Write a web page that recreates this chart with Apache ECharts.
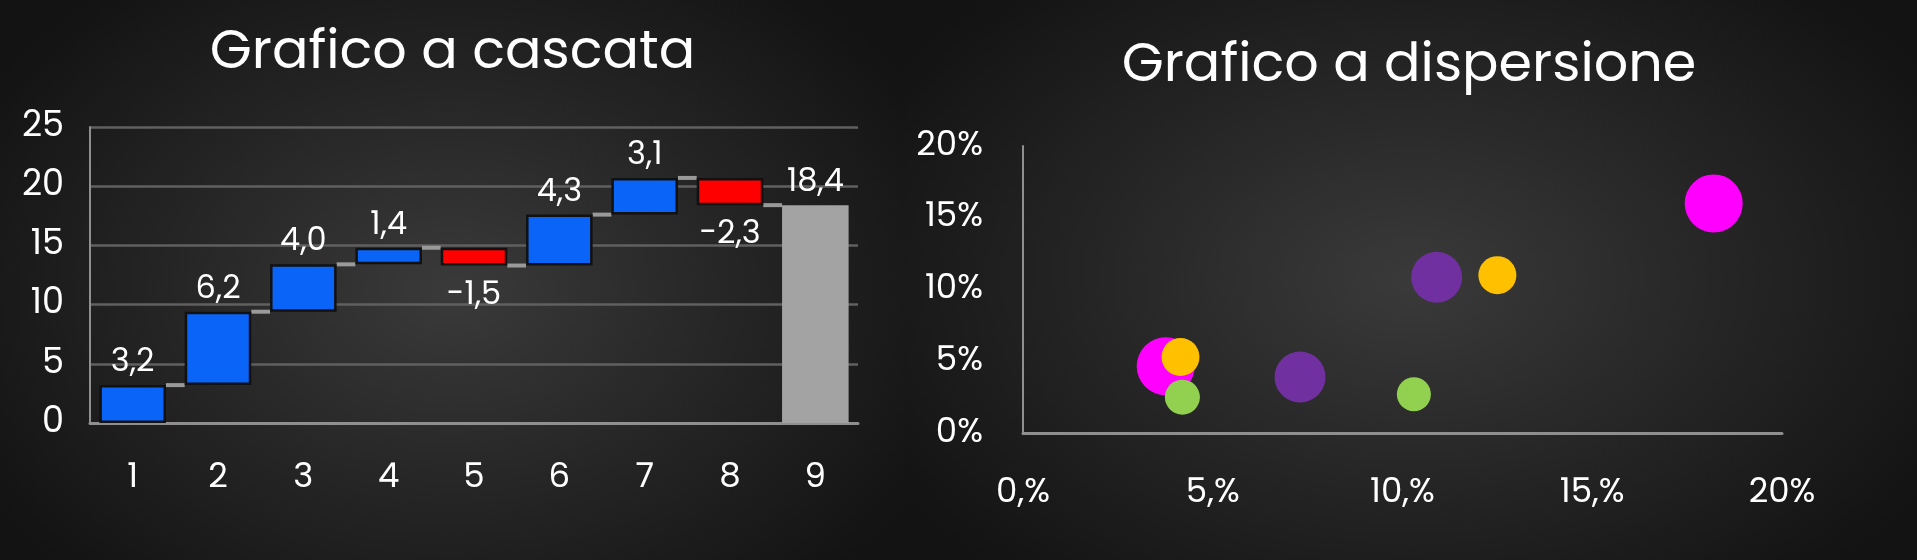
<!DOCTYPE html>
<html>
<head>
<meta charset="utf-8">
<script src="https://cdn.jsdelivr.net/npm/echarts@6/dist/echarts.min.js"></script>
<style>
html,body{margin:0;padding:0;width:1917px;height:560px;overflow:hidden;background:#151515;}
#left{position:absolute;left:0;top:0;width:905px;height:560px;
 background:radial-gradient(ellipse 60% 70% at 50% 52%, #3a3a3a 0%, #262626 50%, #131313 100%);}
#right{position:absolute;left:905px;top:0;width:1012px;height:560px;
 background:radial-gradient(ellipse 60% 70% at 50% 50%, #3a3a3a 0%, #262626 50%, #131313 100%);}
</style>
</head>
<body>
<div id="left"></div>
<div id="right"></div>
<script>
// ---- Waterfall data ----
const wfCategories = ['1','2','3','4','5','6','7','8','9'];
const wfDeltas = [3.2, 6.2, 4.0, 1.4, -1.5, 4.3, 3.1, -2.3];
const wfTotal = 18.4;
const wfYTicks = [0, 5, 10, 15, 20, 25];

// ---- Bubble data: [x, y, size] ----
const bubMagenta = [[0.182, 0.160, 58], [0.0376, 0.0465, 58]];
const bubPurple  = [[0.109, 0.1085, 51], [0.073, 0.039, 51]];
const bubYellow  = [[0.125, 0.110, 38], [0.0415, 0.053, 38]];
const bubGreen   = [[0.042, 0.025, 35], [0.103, 0.027, 34]];
const scXTickLabels = ['0,%', '5,%', '10,%', '15,%', '20%'];
const scYTickLabels = ['0%', '5%', '10%', '15%', '20%'];

const FONT = 'Poppins, Lato, "Noto Sans", sans-serif';
const fmt = v => v.toFixed(1).replace('.', ',');

// cumulative levels
const cum = [];
let run = 0;
wfDeltas.forEach(d => { run += d; cum.push(run); });

const baseData = [], valData = [];
wfDeltas.forEach((d, i) => {
  const prev = i === 0 ? 0 : cum[i - 1];
  baseData.push(Math.min(prev, cum[i]));
  valData.push({
    value: Math.abs(d),
    raw: d,
    itemStyle: { color: d >= 0 ? '#0a64f8' : '#ff0000', borderColor: '#111', borderWidth: 2.5 },
    label: { position: d >= 0 ? 'top' : 'bottom', distance: d >= 0 ? 6 : 14 }
  });
});
baseData.push(0);
valData.push({ value: wfTotal, raw: wfTotal, itemStyle: { color: '#a3a3a3', borderWidth: 0 },
  label: { position: 'top', distance: 6 } });

const connData = cum.map((c, i) => [i, c]);
const BARW = 0.78;

const left = echarts.init(document.getElementById('left'), null, { renderer: 'canvas' });
left.setOption({
  backgroundColor: 'transparent',
  textStyle: { fontFamily: FONT },
  title: { text: 'Grafico a cascata', left: 'center', top: 22,
    textStyle: { color: '#fff', fontSize: 54, fontWeight: 'normal', fontFamily: FONT } },
  grid: { left: 90, right: 47, top: 127, bottom: 137 },
  xAxis: { type: 'category', data: wfCategories,
    axisLine: { lineStyle: { color: '#8f8f8f', width: 3 } }, axisTick: { show: false },
    axisLabel: { color: '#fff', fontSize: 34, margin: 38, fontFamily: FONT } },
  yAxis: { type: 'value', min: 0, max: 25, interval: 5,
    axisLine: { show: true, lineStyle: { color: '#8f8f8f', width: 2 } },
    axisTick: { show: false },
    splitLine: { lineStyle: { color: '#606060', width: 2.5 } },
    axisLabel: { color: '#fff', fontSize: 35, margin: 26, fontFamily: FONT,
      formatter: v => wfYTicks.includes(v) ? String(v) : '' } },
  series: [
    { type: 'custom', data: connData, z: 1,
      renderItem: (params, api) => {
        const i = api.value(0), lvl = api.value(1);
        const p = api.coord([i, lvl]);
        const w = api.size([1, 0])[0];
        const bw = w * BARW;
        return { type: 'line', shape: { x1: p[0] + bw / 2, y1: p[1], x2: p[0] + w - bw / 2, y2: p[1] },
          style: { stroke: '#9a9a9a', lineWidth: 4 } };
      } },
    { type: 'bar', stack: 'wf', data: baseData, barWidth: (BARW * 100) + '%',
      itemStyle: { color: 'transparent' }, silent: true, z: 2 },
    { type: 'bar', stack: 'wf', data: valData, barWidth: (BARW * 100) + '%', z: 3,
      label: { show: true, color: '#fff', fontSize: 32, fontFamily: FONT,
        formatter: p => fmt(p.data.raw) } }
  ]
});

const sz = d => d[2];
const right = echarts.init(document.getElementById('right'), null, { renderer: 'canvas' });
right.setOption({
  backgroundColor: 'transparent',
  textStyle: { fontFamily: FONT },
  title: { text: 'Grafico a dispersione', left: 499, textAlign: 'center', top: 35,
    textStyle: { color: '#fff', fontSize: 54, fontWeight: 'normal', fontFamily: FONT } },
  grid: { left: 118, right: 135, top: 146, bottom: 127 },
  xAxis: { type: 'value', min: 0, max: 0.2, interval: 0.05,
    axisLine: { show: true, lineStyle: { color: '#8f8f8f', width: 3 } },
    axisTick: { show: false }, splitLine: { show: false },
    axisLabel: { color: '#fff', fontSize: 34, margin: 43, fontFamily: FONT,
      formatter: v => scXTickLabels[Math.round(v / 0.05)] } },
  yAxis: { type: 'value', min: 0, max: 0.2, interval: 0.05,
    axisLine: { show: true, lineStyle: { color: '#8f8f8f', width: 2 } },
    axisTick: { show: false }, splitLine: { show: false },
    axisLabel: { color: '#fff', fontSize: 34, margin: 40, fontFamily: FONT,
      formatter: v => scYTickLabels[Math.round(v / 0.05)] } },
  series: [
    { type: 'scatter', data: bubMagenta, symbolSize: sz, itemStyle: { color: '#ff00ff', opacity: 1 } },
    { type: 'scatter', data: bubPurple, symbolSize: sz, itemStyle: { color: '#7030a0', opacity: 1 } },
    { type: 'scatter', data: bubYellow, symbolSize: sz, itemStyle: { color: '#ffc000', opacity: 1 } },
    { type: 'scatter', data: bubGreen, symbolSize: sz, itemStyle: { color: '#92d050', opacity: 1 } }
  ]
});
</script>
</body>
</html>
